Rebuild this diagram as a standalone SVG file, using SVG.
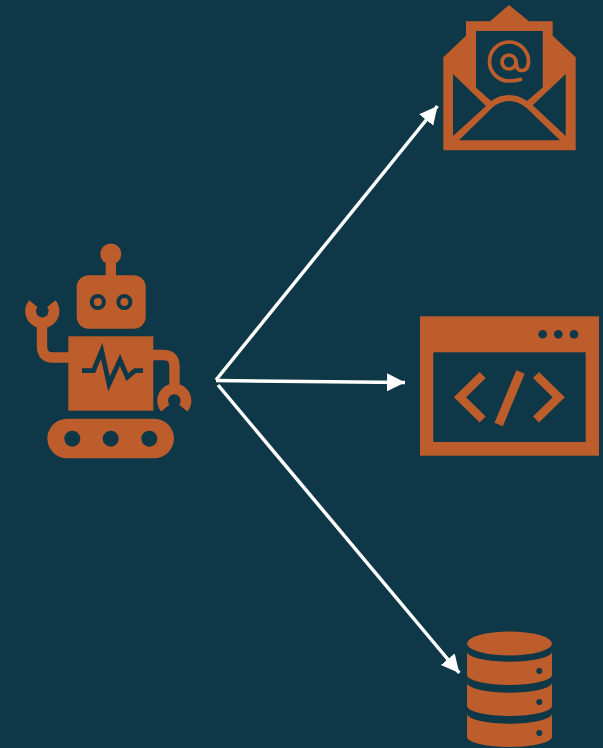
<svg xmlns="http://www.w3.org/2000/svg" width="603" height="748" viewBox="0 0 603 748">
<style>
.f{fill:#bd5d2b}
.d{fill:#0e3748}
.so{fill:none;stroke:#bd5d2b}
.sd{fill:none;stroke:#0e3748}
.c{fill:none;stroke:#fff;stroke-width:3.5}
</style>
<defs>
<marker id="a" markerUnits="userSpaceOnUse" markerWidth="20" markerHeight="20" refX="18" refY="9" orient="auto">
<path d="M0,0 L18,9 L0,18 Z" fill="#fff"/>
</marker>
</defs>
<rect width="603" height="748" class="d"/>
<g id="connectors">
<line class="c" x1="216" y1="380" x2="437.5" y2="106" marker-end="url(#a)"/>
<line class="c" x1="216" y1="380.5" x2="405" y2="382.5" marker-end="url(#a)"/>
<line class="c" x1="218" y1="385" x2="459.3" y2="673" marker-end="url(#a)"/>
</g>
<g id="robot">
<circle class="f" cx="110.8" cy="254" r="10.5"/>
<rect class="f" x="105.7" y="258" width="10.3" height="20"/>
<rect class="f" x="76.7" y="275.3" width="69" height="53.4" rx="12"/>
<circle class="sd" cx="97.8" cy="302" r="6" stroke-width="4"/>
<circle class="sd" cx="124.4" cy="302" r="6" stroke-width="4"/>
<rect class="f" x="68.3" y="336.3" width="85" height="74.4"/>
<polyline class="sd" points="82,370.7 93.5,370.7 101.7,351 109,384 120,360 127.3,377 135,370.7 143,370.7" stroke-width="4.8"/>
<rect class="f" x="47.3" y="418.7" width="126.7" height="39.6" rx="19.8"/>
<circle class="d" cx="72.3" cy="438.7" r="8"/>
<circle class="d" cx="110.7" cy="438.7" r="8"/>
<circle class="d" cx="149.3" cy="438.7" r="8"/>
<path class="so" stroke-width="10.4" d="M69,357.5 H53 Q42,357.5 42,346.5 V322"/>
<path class="so" stroke-width="10.8" d="M33.3,303.6 A11.7,11.7 0 1 0 51.3,303.6"/>
<path class="so" stroke-width="10.4" d="M153,355 H163 Q174.5,355 174.5,366 V386"/>
<path class="so" stroke-width="10.8" d="M165.3,408.1 A11.7,11.7 0 1 1 183.3,408.1"/>
</g>
<g id="email">
<polygon class="f" points="509,5 529,21.3 552.7,21.3 552.7,35.7 575.7,57.3 575.7,150.3 443.3,150.3 443.3,57.3 466,35.7 466,21.3 490,21.3"/>
<path class="d" d="M476,31 H542.7 V87.5 L527,101 Q519,95 509,95 Q499,95 491,101 L476,87.5 Z"/>
<polygon class="d" points="453,74 486,106 453,136"/>
<polygon class="d" points="565.7,74 532.7,105.3 565.7,136"/>
<path class="d" d="M459,140.3 H560 L526.7,108 Q518,101 509,101 Q500,101 492.5,107.5 Z"/>
<circle class="so" cx="509" cy="62" r="7" stroke-width="3.7"/>
<path class="so" stroke-width="3.7" stroke-linecap="round" d="M520.5,79.5 Q515,81 509,81 A19.5,19.5 0 1 1 528.5,61 Q528.5,70.5 521.5,70.5 Q516.5,70.5 516.5,64"/>
</g>
<g id="code">
<rect class="f" x="420" y="316.3" width="179" height="139.4"/>
<rect class="d" x="433.3" y="352.3" width="152.4" height="89.7"/>
<circle class="d" cx="542.7" cy="334.3" r="4.3"/>
<circle class="d" cx="558.3" cy="334.3" r="4.3"/>
<circle class="d" cx="574" cy="334.3" r="4.3"/>
<polyline class="so" stroke-width="8.6" points="482.7,375 460,397.3 482.7,419.5"/>
<polyline class="so" stroke-width="8.6" points="536,375 558.7,397.3 536,419.5"/>
<line class="so" stroke-width="9" x1="520.5" y1="372" x2="498.7" y2="424.5"/>
</g>
<g id="database">
<ellipse class="f" cx="509.5" cy="643.5" rx="42.5" ry="12"/>
<path class="f" d="M467,651.7 A42.5,10 0 0 0 552,651.7 V675 A42.5,10 0 0 1 467,675 Z"/>
<path class="f" d="M467,682.7 A42.5,10 0 0 0 552,682.7 V706 A42.5,10 0 0 1 467,706 Z"/>
<path class="f" d="M467,713.7 A42.5,10 0 0 0 552,713.7 V737 A42.5,10 0 0 1 467,737 Z"/>
<circle class="d" cx="539.3" cy="671" r="3"/>
<circle class="d" cx="539.3" cy="702" r="3"/>
<circle class="d" cx="539.3" cy="733" r="3"/>
</g>
</svg>
